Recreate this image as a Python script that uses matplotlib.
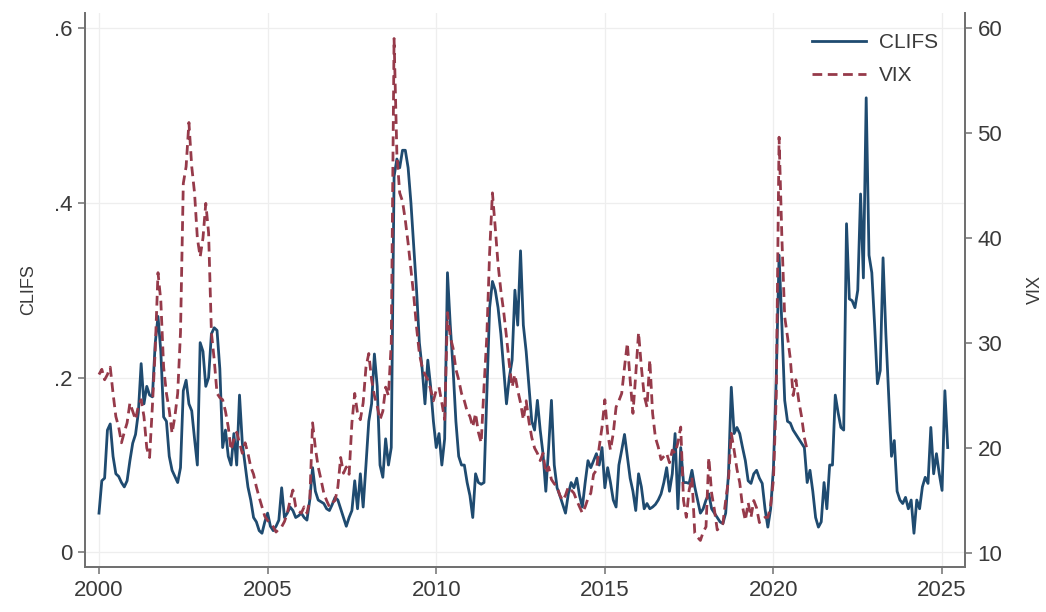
import numpy as np
import pandas as pd
import matplotlib
matplotlib.use("Agg")
import matplotlib.pyplot as plt

# -------------------------
# monthly series, Jan 2000 onwards
# -------------------------
clifs = [
    # 2000
    0.045, 0.082, 0.085, 0.140, 0.147, 0.110, 0.090, 0.087, 0.080, 0.075, 0.082, 0.105,
    # 2001
    0.125, 0.135, 0.160, 0.216, 0.170, 0.190, 0.180, 0.178, 0.239, 0.270, 0.230, 0.155,
    # 2002
    0.150, 0.110, 0.094, 0.087, 0.080, 0.097, 0.185, 0.197, 0.170, 0.162, 0.130, 0.100,
    # 2003
    0.240, 0.230, 0.190, 0.200, 0.250, 0.257, 0.254, 0.210, 0.120, 0.140, 0.110, 0.100,
    # 2004
    0.136, 0.100, 0.180, 0.125, 0.100, 0.075, 0.060, 0.040, 0.035, 0.025, 0.022, 0.035,
    # 2005
    0.045, 0.030, 0.025, 0.030, 0.037, 0.074, 0.040, 0.045, 0.052, 0.048, 0.040, 0.042,
    # 2006
    0.045, 0.040, 0.037, 0.060, 0.097, 0.070, 0.060, 0.058, 0.056, 0.050, 0.048, 0.055,
    # 2007
    0.063, 0.060, 0.050, 0.040, 0.030, 0.040, 0.048, 0.082, 0.050, 0.090, 0.052, 0.100,
    # 2008
    0.150, 0.170, 0.227, 0.190, 0.100, 0.086, 0.130, 0.100, 0.120, 0.430, 0.450, 0.440,
    # 2009
    0.460, 0.460, 0.440, 0.400, 0.350, 0.300, 0.240, 0.210, 0.170, 0.220, 0.190, 0.150,
    # 2010
    0.120, 0.136, 0.100, 0.130, 0.320, 0.260, 0.210, 0.150, 0.110, 0.100, 0.100, 0.080,
    # 2011
    0.065, 0.040, 0.090, 0.080, 0.078, 0.080, 0.180, 0.280, 0.310, 0.300, 0.280, 0.250,
    # 2012
    0.210, 0.170, 0.200, 0.220, 0.300, 0.260, 0.345, 0.260, 0.230, 0.190, 0.150, 0.140,
    # 2013
    0.174, 0.140, 0.113, 0.070, 0.120, 0.174, 0.100, 0.074, 0.065, 0.055, 0.045, 0.067,
    # 2014
    0.080, 0.074, 0.085, 0.065, 0.052, 0.080, 0.105, 0.097, 0.105, 0.113, 0.100, 0.120,
    # 2015
    0.074, 0.097, 0.080, 0.060, 0.052, 0.100, 0.117, 0.135, 0.110, 0.085, 0.070, 0.048,
    # 2016
    0.090, 0.075, 0.050, 0.056, 0.050, 0.052, 0.055, 0.060, 0.067, 0.080, 0.097, 0.070,
    # 2017
    0.090, 0.136, 0.050, 0.120, 0.080, 0.080, 0.079, 0.094, 0.075, 0.060, 0.045, 0.050,
    # 2018
    0.060, 0.067, 0.050, 0.045, 0.040, 0.035, 0.033, 0.045, 0.090, 0.189, 0.136, 0.143,
    # 2019
    0.136, 0.120, 0.105, 0.082, 0.079, 0.090, 0.094, 0.085, 0.079, 0.050, 0.029, 0.050,
    # 2020
    0.097, 0.200, 0.340, 0.260, 0.174, 0.150, 0.148, 0.140, 0.135, 0.130, 0.125, 0.120,
    # 2021
    0.080, 0.094, 0.070, 0.040, 0.029, 0.035, 0.080, 0.050, 0.100, 0.100, 0.180, 0.160,
    # 2022
    0.143, 0.140, 0.376, 0.290, 0.288, 0.280, 0.300, 0.410, 0.314, 0.520, 0.340, 0.320,
    # 2023
    0.260, 0.193, 0.208, 0.337, 0.250, 0.180, 0.110, 0.128, 0.070, 0.060, 0.056, 0.063,
    # 2024
    0.050, 0.060, 0.022, 0.060, 0.050, 0.075, 0.086, 0.079, 0.143, 0.090, 0.113, 0.090,
    # 2025
    0.071, 0.185, 0.120,
]

vix = [
    # 2000
    27.0, 27.5, 26.5, 27.0, 27.7, 25.2, 23.0, 22.0, 20.5, 21.5, 22.4, 24.3,
    # 2001
    23.5, 22.7, 24.0, 24.6, 23.0, 20.0, 19.1, 24.0, 29.3, 36.7, 34.0, 27.7,
    # 2002
    25.2, 23.6, 21.4, 23.0, 25.2, 31.0, 45.2, 46.8, 51.0, 46.8, 44.3, 40.0,
    # 2003
    38.2, 40.0, 43.3, 40.5, 31.0, 28.4, 25.2, 24.8, 24.6, 23.5, 22.0, 19.8,
    # 2004
    20.8, 21.5, 20.5, 19.5, 20.5, 19.5, 18.2, 17.5, 16.3, 15.3, 14.4, 13.5,
    # 2005
    13.1, 12.8, 12.5, 12.0, 12.3, 12.5, 13.0, 13.8, 15.0, 16.0, 14.4, 14.0,
    # 2006
    13.8, 14.4, 13.8, 15.0, 22.4, 20.0, 18.2, 17.0, 15.7, 15.0, 14.4, 14.8,
    # 2007
    15.0, 16.3, 19.1, 17.6, 18.2, 17.5, 22.4, 25.2, 23.3, 22.7, 24.3, 27.7,
    # 2008
    29.0, 26.5, 25.0, 24.0, 22.7, 23.5, 25.8, 25.0, 30.0, 59.0, 48.0, 44.3,
    # 2009
    43.5, 41.7, 39.5, 37.0, 34.5, 31.5, 29.0, 27.7, 27.0, 26.5, 25.6, 24.5,
    # 2010
    25.5, 25.8, 24.3, 22.7, 32.9, 30.6, 29.5, 27.5, 26.5, 25.2, 24.5, 23.5,
    # 2011
    23.0, 22.0, 23.3, 21.5, 20.5, 25.8, 30.6, 38.6, 44.3, 41.0, 37.5, 35.0,
    # 2012
    33.0, 30.6, 28.0, 25.8, 27.0, 25.5, 24.3, 22.7, 24.5, 22.5, 21.0, 20.0,
    # 2013
    19.5, 18.8, 19.5, 17.6, 18.2, 17.0, 16.6, 16.3, 15.5, 15.0, 15.5, 16.3,
    # 2014
    16.0, 15.7, 15.0, 14.4, 13.8, 14.4, 15.2, 15.7, 17.5, 17.9, 20.1, 22.0,
    # 2015
    24.6, 21.4, 19.8, 21.4, 23.9, 24.5, 25.2, 27.7, 30.0, 26.5, 23.3, 27.0,
    # 2016
    31.0, 27.7, 25.0, 23.9, 28.4, 23.3, 21.0, 20.1, 18.9, 19.2, 19.5, 18.6,
    # 2017
    19.8, 19.5, 20.5, 22.0, 15.0, 13.4, 16.0, 17.2, 11.9, 11.5, 11.2, 12.0,
    # 2018
    12.5, 19.1, 15.7, 14.1, 12.2, 12.5, 12.8, 15.0, 17.0, 21.4, 19.8, 18.0,
    # 2019
    16.7, 14.4, 13.1, 14.8, 13.4, 15.0, 14.3, 12.9, 13.2, 13.4, 13.4, 14.5,
    # 2020
    17.0, 25.0, 49.6, 40.0, 32.5, 30.6, 28.5, 25.0, 26.5, 24.5, 23.0, 21.0,
    # 2021
    19.8,
]

dates_clifs = pd.date_range("2000-01-01", periods=len(clifs), freq="MS")
dates_vix = pd.date_range("2000-01-01", periods=len(vix), freq="MS")
# decimal year for plotting
t_clifs = dates_clifs.year + (dates_clifs.month - 1) / 12
t_vix = dates_vix.year + (dates_vix.month - 1) / 12

year_ticks = [2000, 2005, 2010, 2015, 2020, 2025]
left_ticks = [0, 0.2, 0.4, 0.6]
left_labels = ["0", ".2", ".4", ".6"]
right_ticks = [10, 20, 30, 40, 50, 60]

# -------------------------
# style
# -------------------------
plt.rcParams["font.family"] = ["Liberation Sans", "DejaVu Sans"]
navy = "#1f4b70"
maroon = "#963a4a"
axis_gray = "#707070"
text_col = "#3a3a3a"
grid_col = "#eeeeee"

fig = plt.figure(figsize=(10.46, 6.12), dpi=100)
ax = fig.add_axes([85 / 1046, 1 - 567 / 612, 880 / 1046, 554 / 612])
ax2 = ax.twinx()

# CLIFS on the left axis
ln1, = ax.plot(t_clifs, clifs, color=navy, lw=2.0, label="CLIFS", zorder=3)
# VIX on the right axis
ln2, = ax2.plot(t_vix, vix, color=maroon, lw=2.0, ls=(0, (3.5, 2.0)), label="VIX", zorder=2)

ax.set_xlim(1999.585, 2025.68)
ax.set_ylim(-0.0166, 0.617)
ax2.set_ylim(8.67, 61.43)

ax.set_xticks(year_ticks)
ax.set_yticks(left_ticks)
ax.set_yticklabels(left_labels)
ax2.set_yticks(right_ticks)

ax.grid(True, color=grid_col, lw=0.9, zorder=0)
ax.set_axisbelow(True)

for a in (ax, ax2):
    a.spines["top"].set_visible(False)
    for s in ("left", "right", "bottom"):
        a.spines[s].set_color(axis_gray)
        a.spines[s].set_linewidth(1.3)
    a.tick_params(axis="both", direction="out", length=5, width=1.1,
                  color=axis_gray, labelcolor=text_col, labelsize=16, pad=4)

ax.set_ylabel("CLIFS", fontsize=13, color=text_col, labelpad=12)
ax2.set_ylabel("VIX", fontsize=13, color=text_col, labelpad=18)

leg = ax.legend([ln1, ln2], ["CLIFS", "VIX"], loc="upper left",
                bbox_to_anchor=(0.826, 0.963), frameon=False, fontsize=15,
                handlelength=2.6, handletextpad=0.6, labelspacing=0.65,
                borderpad=0, borderaxespad=0)
for t in leg.get_texts():
    t.set_color(text_col)

fig.savefig("out.png", dpi=100)
